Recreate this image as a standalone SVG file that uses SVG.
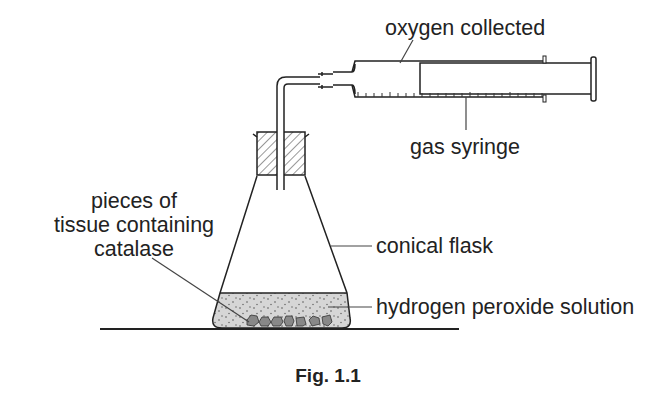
<svg xmlns="http://www.w3.org/2000/svg" width="656" height="400" viewBox="0 0 656 400">
<style>
.l{fill:none;stroke:#222;stroke-width:1.5}
.t{font-family:"Liberation Sans",Arial,sans-serif;font-size:21.5px;fill:#222}
.ld{stroke:#444;stroke-width:1.2}
</style>
<defs>
<pattern id="h" width="6" height="6" patternUnits="userSpaceOnUse" patternTransform="rotate(45)">
<line x1="0" y1="0" x2="0" y2="6" stroke="#333" stroke-width="1"/>
</pattern>
<pattern id="d" width="14" height="9" patternUnits="userSpaceOnUse">
<circle cx="2" cy="2" r="0.8" fill="#555"/><circle cx="9" cy="5" r="0.8" fill="#555"/><circle cx="5" cy="7.5" r="0.7" fill="#555"/><circle cx="12" cy="1" r="0.7" fill="#555"/>
</pattern>
</defs>
<g id="base"><line x1="100" y1="329" x2="459" y2="329" stroke="#222" stroke-width="2"/></g>
<g id="flask">
<path d="M220,293 L213,318 Q211,328 222,328 L342,328 Q352,328 350,318 L347,293 Z" fill="#d6d6d6"/>
<path d="M220,293 L347,293 L350,318 Q352,328 342,328 L222,328 Q211,328 213,318 Z" fill="url(#d)"/>
<line x1="220" y1="293" x2="347" y2="293" class="l" stroke-width="1"/>
<path class="l" d="M257,176 L220,293 L213,318 Q211,328 222,328 L342,328 Q352,328 350,318 L347,293 L305,176"/>
<path class="l" stroke-width="1" d="M253,134 L257,137 M309,134 L305,137"/>
<g fill="#888" stroke="#333" stroke-width="0.8">
<path d="M247,320 l4,-5 l6,1 l2,6 l-5,4 l-7,-1z"/><path d="M259,322 l3,-5 l6,0 l3,5 l-3,4 l-7,0z"/><path d="M271,322 l3,-5 l7,0 l2,5 l-3,4 l-7,0z"/><path d="M284,321 l2,-5 l6,0 l2,5 l-2,5 l-6,0z"/><path d="M296,318 l8,-1 l2,7 l-3,2 l-6,0z"/><path d="M309,320 l4,-4 l6,2 l1,6 l-8,2z"/><path d="M322,317 l8,-2 l2,7 l-4,4 l-5,-2z"/>
</g>
</g>
<g id="stopper">
<rect x="257" y="132" width="48" height="43" fill="url(#h)" stroke="#222" stroke-width="1.5"/>
</g>
<g id="tube">
<rect x="277" y="130" width="7" height="60" fill="#fff"/>
<path class="l" d="M277,190 L277,86 Q277,77 286,77 L320,77 M284,190 L284,88 Q284,84 288,84 L320,84"/>
<path class="l" d="M318,74 L333,74 M318,87 L333,87 M322,72 L322,76 M322,85 L322,89"/>
</g>
<g id="syringe">
<path class="l" d="M333,72 L352,72 L355,61 L545,61 M333,85 L352,85 L355,97 L545,97 M352,72 Q355,72 355,64 M352,85 Q355,85 355,94"/>
<path class="l" d="M420,63 L593,63 L593,94 L420,94 Z"/>
<rect x="591" y="57" width="5" height="44" rx="2" fill="#fff" stroke="#222" stroke-width="1.5"/>
<rect x="543" y="56" width="3" height="7" fill="#fff" stroke="#222" stroke-width="1"/>
<rect x="543" y="95" width="3" height="7" fill="#fff" stroke="#222" stroke-width="1"/>
<path stroke="#333" stroke-width="1" d="M358,97v-5M366,97v-4M374,97v-4M382,97v-4M390,97v-5M398,97v-4M406,97v-4M414,97v-4M422,97v-4M430,97v-4M438,97v-4M446,97v-4M454,97v-4M462,97v-4M470,97v-5M478,97v-4M486,97v-4M494,97v-4M502,97v-4M510,97v-5M518,97v-4M526,97v-4M534,97v-4M542,97v-4"/>
</g>
<g id="connectors">
<line class="ld" x1="400" y1="63" x2="413" y2="40"/>
<line class="ld" x1="466" y1="97" x2="466" y2="130"/>
<line class="ld" x1="331" y1="246" x2="372" y2="246"/>
<line class="ld" x1="328" y1="307" x2="372" y2="307"/>
<line class="ld" x1="152" y1="258" x2="249" y2="322"/>
</g>
<g id="labels" class="t">
<text x="385" y="35">oxygen collected</text>
<text x="410" y="154">gas syringe</text>
<text x="376" y="253">conical flask</text>
<text x="376" y="314">hydrogen peroxide solution</text>
<text x="134" y="208" text-anchor="middle">pieces of</text>
<text x="134" y="232" text-anchor="middle">tissue containing</text>
<text x="134" y="256" text-anchor="middle">catalase</text>
<text x="328" y="382" text-anchor="middle" font-weight="bold" font-size="19">Fig. 1.1</text>
</g>
</svg>
